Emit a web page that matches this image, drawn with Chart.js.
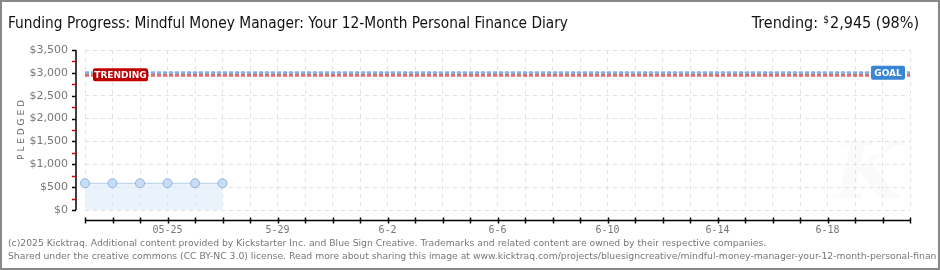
<!DOCTYPE html>
<html>
  <head>
    <meta charset="utf-8" />
    <title>Funding Progress</title>
    <style>
      body { margin: 0; background: #fff; }
      #wrap { position: relative; width: 940px; height: 270px; }
    </style>
  </head>
  <body>
    <div id="wrap"><canvas id="chart" width="940" height="270"></canvas></div>
    <script src="https://cdn.jsdelivr.net/npm/chart.js@4.4.1/dist/chart.umd.min.js"></script>
    <script>
      // days on the x axis, 05-22 .. 06-21
      const days = [
        "05-22", "05-23", "05-24", "05-25", "05-26", "05-27", "05-28", "05-29",
        "05-30", "05-31", "06-01", "06-02", "06-03", "06-04", "06-05", "06-06",
        "06-07", "06-08", "06-09", "06-10", "06-11", "06-12", "06-13", "06-14",
        "06-15", "06-16", "06-17", "06-18", "06-19", "06-20", "06-21"
      ];
      // labels printed under the axis (blank = tick only)
      const xTickLabels = [
        "", "", "", "05-25", "", "", "", "5-29",
        "", "", "", "6-2", "", "", "", "6-6",
        "", "", "", "6-10", "", "", "", "6-14",
        "", "", "", "6-18", "", "", ""
      ];
      const pledged = [585, 585, 585, 585, 585, 585];
      const goal = 3000;
      const trending = 2945;
      const yTicks = [0, 500, 1000, 1500, 2000, 2500, 3000, 3500];

      const title = "Funding Progress: Mindful Money Manager: Your 12-Month Personal Finance Diary";
      const footer1 = "(c)2025 Kicktraq. Additional content provided by Kickstarter Inc. and Blue Sign Creative. Trademarks and related content are owned by their respective companies.";
      const footer2 = "Shared under the creative commons (CC BY-NC 3.0) license. Read more about sharing this image at www.kicktraq.com/projects/bluesigncreative/mindful-money-manager-your-12-month-personal-finance-diary/";

      function money(v) {
        return "$" + v.toLocaleString("en-US");
      }

      function tag(ctx, text, x, y, w, h, color) {
        ctx.fillStyle = color;
        ctx.beginPath();
        ctx.roundRect(x, y, w, h, 2);
        ctx.fill();
        ctx.fillStyle = "#fff";
        ctx.font = "bold 9px 'DejaVu Sans'";
        ctx.textAlign = "center";
        ctx.textBaseline = "middle";
        ctx.fillText(text, x + w / 2, y + h / 2 + 0.5);
      }

      const decor = {
        id: "decor",
        beforeDraw(chart) {
          const ctx = chart.ctx;
          ctx.save();
          // faint watermark
          ctx.fillStyle = "#fafafa";
          ctx.font = "italic bold 78px 'DejaVu Serif'";
          ctx.textAlign = "center";
          ctx.textBaseline = "alphabetic";
          ctx.fillText("K", 868, 198);
          ctx.restore();
        },
        afterDraw(chart) {
          const ctx = chart.ctx;
          const x = chart.scales.x;
          const y = chart.scales.y;
          const area = chart.chartArea;
          ctx.save();

          // y axis, detached from the plot
          const ax = area.left - 9;
          ctx.strokeStyle = "#000";
          ctx.lineWidth = 1.5;
          ctx.beginPath();
          ctx.moveTo(ax, y.getPixelForValue(3500));
          ctx.lineTo(ax, y.getPixelForValue(0));
          ctx.stroke();
          yTicks.forEach((v) => {
            const py = Math.round(y.getPixelForValue(v)) + 0.5;
            ctx.strokeStyle = "#000";
            ctx.beginPath();
            ctx.moveTo(ax - 4, py);
            ctx.lineTo(ax, py);
            ctx.stroke();
            if (v < 3500) {
              const my = Math.round(y.getPixelForValue(v + 250)) + 0.5;
              ctx.strokeStyle = "#d00";
              ctx.beginPath();
              ctx.moveTo(ax - 4, my);
              ctx.lineTo(ax, my);
              ctx.stroke();
            }
          });

          // x axis, below the plot
          const ay = area.bottom + 10.5;
          ctx.strokeStyle = "#000";
          ctx.lineWidth = 1.5;
          ctx.beginPath();
          ctx.moveTo(x.getPixelForValue(0), ay);
          ctx.lineTo(x.getPixelForValue(days.length - 1), ay);
          ctx.stroke();
          days.forEach((d, i) => {
            const px = Math.round(x.getPixelForValue(i)) + 0.5;
            ctx.beginPath();
            ctx.moveTo(px, ay - 3);
            ctx.lineTo(px, ay + 3);
            ctx.stroke();
          });

          // line tags
          tag(ctx, "TRENDING", x.getPixelForValue(0) + 8, y.getPixelForValue(trending) - 7, 55, 13, "#c00000");
          tag(ctx, "GOAL", x.getPixelForValue(days.length - 1) - 39, y.getPixelForValue(goal) - 7, 34, 14, "#3a86d4");

          // y axis title
          ctx.fillStyle = "#666";
          ctx.font = "9px 'DejaVu Sans'";
          ctx.translate(22, 130);
          ctx.rotate(-Math.PI / 2);
          ctx.textAlign = "center";
          ctx.textBaseline = "middle";
          ctx.fillText("P L E D G E D", 0, 0);
          ctx.setTransform(1, 0, 0, 1, 0, 0);

          // titles
          ctx.fillStyle = "#111";
          ctx.textAlign = "left";
          ctx.textBaseline = "alphabetic";
          ctx.font = "16px 'DejaVu Sans Condensed', 'DejaVu Sans'";
          ctx.fillText(title, 8, 28, 560);
          ctx.textAlign = "right";
          ctx.fillText("2,945 (98%)", 919, 28);
          const w1 = ctx.measureText("2,945 (98%)").width;
          ctx.font = "10px 'DejaVu Sans Condensed', 'DejaVu Sans'";
          ctx.fillText("$", 919 - w1 - 1, 23);
          ctx.font = "16px 'DejaVu Sans Condensed', 'DejaVu Sans'";
          ctx.fillText("Trending:", 919 - w1 - 12, 28);

          // footer, sized so line 1 spans the same width as the original
          ctx.fillStyle = "#777";
          ctx.textAlign = "left";
          ctx.font = "10px 'DejaVu Sans'";
          const fsize = 10 * 759 / ctx.measureText(footer1).width;
          ctx.font = fsize.toFixed(2) + "px 'DejaVu Sans'";
          ctx.fillText(footer1, 8, 246);
          ctx.save();
          ctx.beginPath();
          ctx.rect(0, 0, 936, 270);
          ctx.clip();
          ctx.fillText(footer2, 8, 259);
          ctx.restore();

          // frame
          ctx.strokeStyle = "#888";
          ctx.lineWidth = 2;
          ctx.strokeRect(1, 1, 938, 268);
          ctx.restore();
        }
      };

      const ctx = document.getElementById("chart").getContext("2d");
      new Chart(ctx, {
        type: "line",
        data: {
          labels: days,
          datasets: [
            {
              label: "Goal",
              data: days.map(() => goal),
              borderColor: "rgba(110,160,225,0.8)",
              borderWidth: 3,
              borderDash: [4, 2],
              pointRadius: 0,
              fill: false
            },
            {
              label: "Trending",
              data: days.map(() => trending),
              borderColor: "rgba(225,70,70,0.8)",
              borderWidth: 3,
              borderDash: [4, 2],
              pointRadius: 0,
              fill: false
            },
            {
              label: "Pledged",
              data: pledged,
              borderColor: "#b4cde9",
              borderWidth: 1,
              backgroundColor: "rgba(220,234,250,0.6)",
              fill: "origin",
              pointRadius: 4.5,
              pointBackgroundColor: "#c7ddf5",
              pointBorderColor: "#8fb2dc",
              pointBorderWidth: 1,
              tension: 0
            }
          ]
        },
        options: {
          responsive: false,
          animation: false,
          events: [],
          layout: { padding: { left: 0, right: 30, top: 50, bottom: 20 } },
          plugins: { legend: { display: false }, tooltip: { enabled: false } },
          scales: {
            x: {
              offset: false,
              grid: { color: "#e2e2e2", drawTicks: false },
              border: { display: false, dash: [4, 4] },
              afterFit(s) { s.height = 40; },
              ticks: {
                autoSkip: false,
                maxRotation: 0,
                padding: 14,
                color: "#777",
                font: { family: "'DejaVu Sans Mono'", size: 10 },
                callback: (v, i) => xTickLabels[i]
              }
            },
            y: {
              min: 0,
              max: 3500,
              grid: { color: "#e2e2e2", drawTicks: false },
              border: { display: false, dash: [4, 4] },
              afterFit(s) { s.width = 85; },
              ticks: {
                stepSize: 500,
                padding: 17,
                color: "#777",
                font: { family: "'DejaVu Sans'", size: 11 },
                callback: (v) => money(v)
              }
            }
          }
        },
        plugins: [decor]
      });
    </script>
  </body>
</html>
